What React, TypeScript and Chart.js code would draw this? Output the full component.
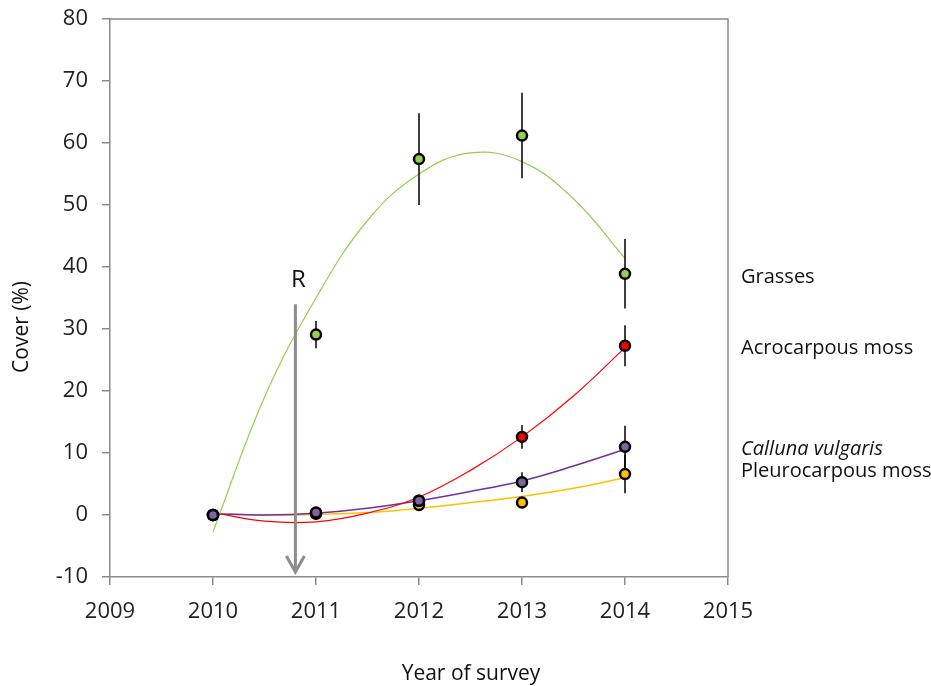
import React, { useEffect, useRef } from 'react';
import { Chart, registerables } from 'chart.js';
Chart.register(...registerables);

const years = [2010, 2011, 2012, 2013, 2014];
const grasses = [0, 29.1, 57.4, 61.2, 38.9];
const grassesErr = [0, 2.2, 7.4, 6.9, 5.6];
const acrocarpous = [0, 0.3, 2.3, 12.6, 27.3];
const acrocarpousErr = [0, 0.3, 0.6, 1.9, 3.3];
const calluna = [0, 0.4, 2.3, 5.3, 11.0];
const callunaErr = [0, 0.3, 0.6, 1.6, 3.4];
const pleurocarpous = [0, 0.2, 1.6, 2.0, 6.6];
const pleurocarpousErr = [0, 0.2, 0.5, 0.6, 3.1];

const trendYears = [2010, 2010.5, 2011, 2011.5, 2012, 2012.5, 2013, 2013.5, 2014];
const grassesTrend = [-2.7, 19, 35, 47.5, 55, 58.4, 57, 51, 41.4];
const acrocarpousTrend = [0.4, -1.0, -1.1, 0.3, 2.9, 7.2, 12.6, 19.2, 27.0];
const callunaTrend = [0.2, 0.0, 0.3, 1.1, 2.3, 3.8, 5.5, 7.9, 10.6];
const pleurocarpousTrend = [0.2, 0.0, 0.1, 0.4, 1.1, 2.0, 3.0, 4.3, 6.0];

const seriesNames = ['Grasses', 'Acrocarpous moss', 'Calluna vulgaris', 'Pleurocarpous moss'];
const seriesLabelValues = [37.4, 26.0, 9.7, 6.1];
const seriesLabelItalic = [false, false, true, false];

const xTicks = [2009, 2010, 2011, 2012, 2013, 2014, 2015];
const yTickMin = -10;
const yTickMax = 80;
const xTitle = 'Year of survey';
const yTitle = 'Cover (%)';

const arrowX = 2010.8;
const arrowFrom = 34;
const arrowTo = -9.2;
const arrowLabel = 'R';
const arrowLabelX = 2010.83;
const arrowLabelY = 36.8;

const FONT = '"Open Sans", sans-serif';
const AXIS = '#8a8a8a';

const pts = (xs: number[], ys: number[]) => xs.map((x, i) => ({ x, y: ys[i] }));

const errorBarPlugin = {
  id: 'errorBars',
  beforeDatasetDraw(chart: any, args: any) {
    const ds = chart.data.datasets[args.index];
    if (!ds.errors) return;
    const { ctx, scales } = chart;
    ctx.save();
    ctx.strokeStyle = '#000';
    ctx.lineWidth = 1.5;
    ds.data.forEach((p: any, i: number) => {
      const e = ds.errors[i];
      if (!e) return;
      const x = scales.x.getPixelForValue(p.x);
      ctx.beginPath();
      ctx.moveTo(x, scales.y.getPixelForValue(p.y + e));
      ctx.lineTo(x, scales.y.getPixelForValue(p.y - e));
      ctx.stroke();
    });
    ctx.restore();
  },
};

const decorPlugin = {
  id: 'decor',
  beforeDatasetsDraw(chart: any) {
    const { ctx, chartArea } = chart;
    ctx.save();
    ctx.strokeStyle = AXIS;
    ctx.lineWidth = 1.5;
    ctx.beginPath();
    ctx.moveTo(chartArea.left, chartArea.top);
    ctx.lineTo(chartArea.right, chartArea.top);
    ctx.lineTo(chartArea.right, chartArea.bottom);
    ctx.stroke();
    ctx.restore();
  },
  afterDatasetsDraw(chart: any) {
    const { ctx, scales, chartArea } = chart;
    const sx = scales.x, sy = scales.y;
    ctx.save();
    const ax = sx.getPixelForValue(arrowX);
    const ay = sy.getPixelForValue(arrowTo);
    ctx.strokeStyle = '#8c8c8c';
    ctx.lineWidth = 3;
    ctx.beginPath();
    ctx.moveTo(ax - 9, ay - 16);
    ctx.lineTo(ax, ay);
    ctx.lineTo(ax + 9, ay - 16);
    ctx.stroke();
    ctx.fillStyle = '#111';
    ctx.font = `24px ${FONT}`;
    ctx.textAlign = 'center';
    ctx.textBaseline = 'alphabetic';
    ctx.fillText(arrowLabel, sx.getPixelForValue(arrowLabelX), sy.getPixelForValue(arrowLabelY));
    ctx.textAlign = 'left';
    seriesNames.forEach((n, i) => {
      ctx.font = `${seriesLabelItalic[i] ? 'italic ' : ''}20px ${FONT}`;
      ctx.fillText(n, chartArea.right + 13, sy.getPixelForValue(seriesLabelValues[i]));
    });
    ctx.font = `21px ${FONT}`;
    ctx.textAlign = 'center';
    ctx.textBaseline = 'middle';
    ctx.fillText(xTitle, 471, 674);
    ctx.translate(22, 327);
    ctx.rotate(-Math.PI / 2);
    ctx.fillText(yTitle, 0, 0);
    ctx.restore();
  },
};

export default function App() {
  const ref = useRef<HTMLCanvasElement>(null);
  useEffect(() => {
    document.body.style.margin = '0';
    const pointDs = (label: string, data: number[], err: number[], color: string, order: number) => ({
      label,
      data: pts(years, data),
      errors: err,
      showLine: false,
      pointRadius: 5,
      pointHoverRadius: 5,
      pointBorderWidth: 2.5,
      pointBorderColor: '#000',
      pointBackgroundColor: color,
      order,
    });
    const trendDs = (label: string, data: number[], color: string, width: number) => ({
      label,
      data: pts(trendYears, data),
      showLine: true,
      borderColor: color,
      borderWidth: width,
      pointRadius: 0,
      tension: 0.4,
      order: 10,
    });
    const chart = new Chart(ref.current!, {
      type: 'scatter',
      data: {
        datasets: [
          trendDs('Grasses trend', grassesTrend, '#92D050', 1.2),
          trendDs('Acrocarpous trend', acrocarpousTrend, '#FF0000', 1.2),
          trendDs('Calluna trend', callunaTrend, '#7030A0', 1.5),
          trendDs('Pleurocarpous trend', pleurocarpousTrend, '#FFC000', 1.5),
          {
            label: 'R',
            data: [{ x: arrowX, y: arrowFrom }, { x: arrowX, y: arrowTo }],
            showLine: true,
            borderColor: '#8c8c8c',
            borderWidth: 3,
            pointRadius: 0,
            order: 6,
          },
          pointDs('Pleurocarpous moss', pleurocarpous, pleurocarpousErr, '#FFC000', 4),
          pointDs('Acrocarpous moss', acrocarpous, acrocarpousErr, '#FF0000', 3),
          pointDs('Grasses', grasses, grassesErr, '#92D050', 2),
          pointDs('Calluna vulgaris', calluna, callunaErr, '#8064A2', 1),
        ] as any,
      },
      options: {
        animation: false,
        responsive: false,
        events: [],
        layout: { padding: { top: 19, right: 203, left: 0, bottom: 0 } },
        plugins: { legend: { display: false }, tooltip: { enabled: false } },
        scales: {
          x: {
            type: 'linear',
            min: xTicks[0],
            max: xTicks[xTicks.length - 1],
            afterBuildTicks: (s: any) => { s.ticks = xTicks.map((v) => ({ value: v })); },
            afterFit: (s: any) => { s.height = 109; s.paddingLeft = 0; s.paddingRight = 0; },
            ticks: {
              callback: (v: any) => String(v),
              font: { family: FONT, size: 22 },
              color: '#222',
              padding: 14,
              maxRotation: 0,
            },
            grid: { drawOnChartArea: false, drawTicks: true, tickLength: 8, color: AXIS, lineWidth: 1.5 },
            border: { display: true, color: AXIS, width: 1.5 },
          },
          y: {
            type: 'linear',
            min: yTickMin,
            max: yTickMax,
            afterFit: (s: any) => { s.width = 110; s.paddingTop = 0; s.paddingBottom = 0; },
            ticks: {
              stepSize: 10,
              callback: (v: any) => String(v),
              font: { family: FONT, size: 22 },
              color: '#222',
              padding: 14,
            },
            grid: { drawOnChartArea: false, drawTicks: true, tickLength: 8, color: AXIS, lineWidth: 1.5 },
            border: { display: true, color: AXIS, width: 1.5 },
          },
        },
      },
      plugins: [errorBarPlugin, decorPlugin],
    });
    return () => chart.destroy();
  }, []);
  return (
    <div style={{ width: 931, height: 686 }}>
      <canvas ref={ref} width={931} height={686} />
    </div>
  );
}
